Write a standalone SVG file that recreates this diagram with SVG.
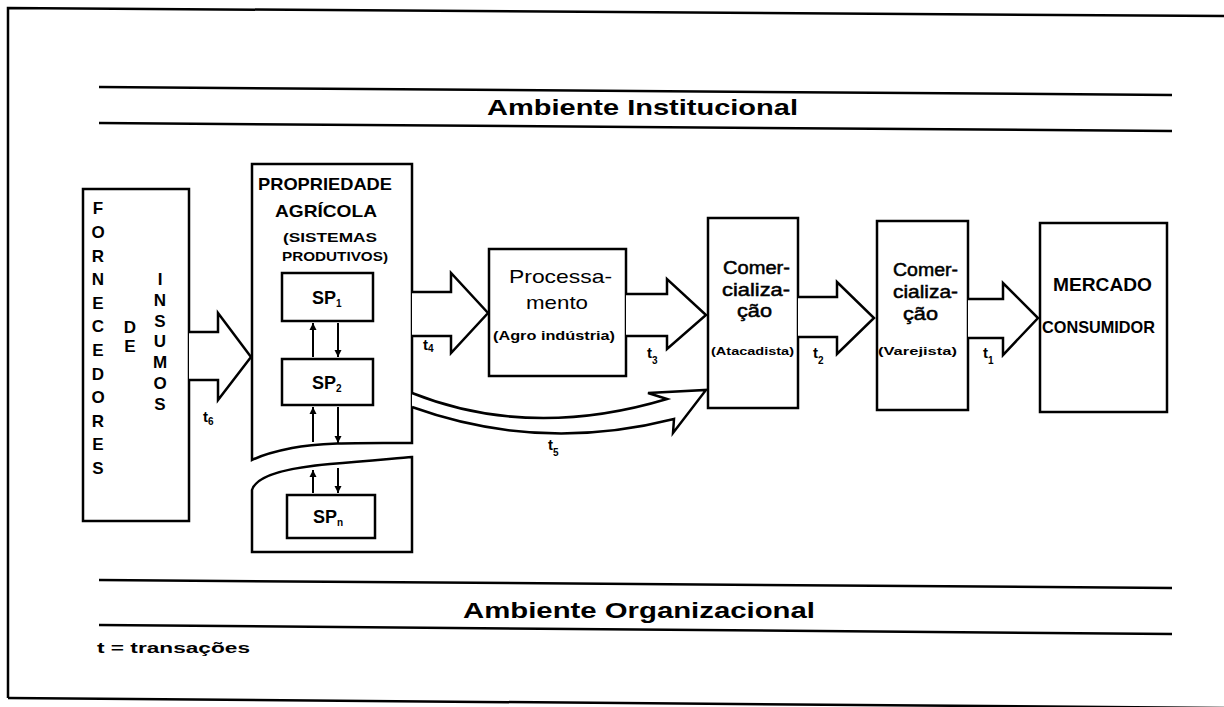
<svg xmlns="http://www.w3.org/2000/svg" width="1224" height="707" viewBox="0 0 1224 707">
<style>
.ln{fill:none;stroke:#000;stroke-width:2.5}
.bx{fill:#fff;stroke:#000;stroke-width:2.5}
.ar{fill:#fff;stroke:#000;stroke-width:2.5;stroke-linejoin:miter}
.sa{fill:none;stroke:#000;stroke-width:2}
text{font-family:"Liberation Sans",Arial,sans-serif;fill:#000}
.b{font-weight:bold}
.m{stroke:#000;stroke-width:0.5}
.t{font-weight:bold;font-size:15px}
.s{font-size:10px;font-weight:bold}
</style>
<defs>
<marker id="ah" viewBox="0 0 10 10" refX="10" refY="5" markerWidth="7" markerHeight="8" markerUnits="userSpaceOnUse" orient="auto">
<path d="M0,0 L10,5 L0,10 Z" fill="#000"/>
</marker>
</defs>
<rect width="1224" height="707" fill="#fff"/>
<g id="frame">
<path class="ln" d="M8,698 L8,8 L1224,16"/>
<path class="ln" d="M8,698 L1224,708"/>
</g>
<g id="ambiente-institucional">
<path class="ln" d="M99,87 L1172,95"/>
<path class="ln" d="M99,123 L1172,131"/>
<text class="b" x="487" y="115" font-size="22" textLength="311" lengthAdjust="spacingAndGlyphs">Ambiente Institucional</text>
</g>
<g id="ambiente-organizacional">
<path class="ln" d="M99,580 L1172,588"/>
<path class="ln" d="M99,625 L1172,634"/>
<text class="b" x="463" y="618" font-size="22" textLength="352" lengthAdjust="spacingAndGlyphs">Ambiente Organizacional</text>
<text class="b" x="97" y="653" font-size="15" textLength="153" lengthAdjust="spacingAndGlyphs">t = transações</text>
</g>
<g id="fornecedores">
<rect class="bx" x="83" y="189" width="106" height="332"/>
<text class="b" font-size="17" text-anchor="middle">
<tspan x="98" y="214">F</tspan><tspan x="98" y="238">O</tspan><tspan x="98" y="262">R</tspan><tspan x="98" y="285">N</tspan><tspan x="98" y="309">E</tspan><tspan x="98" y="332">C</tspan><tspan x="98" y="356">E</tspan><tspan x="98" y="380">D</tspan><tspan x="98" y="403">O</tspan><tspan x="98" y="427">R</tspan><tspan x="98" y="450">E</tspan><tspan x="98" y="474">S</tspan>
</text>
<text class="b" font-size="17" text-anchor="middle">
<tspan x="130" y="333">D</tspan><tspan x="130" y="352">E</tspan>
</text>
<text class="b" font-size="17" text-anchor="middle">
<tspan x="160" y="285">I</tspan><tspan x="160" y="306">N</tspan><tspan x="160" y="327">S</tspan><tspan x="160" y="347">U</tspan><tspan x="160" y="368">M</tspan><tspan x="160" y="389">O</tspan><tspan x="160" y="410">S</tspan>
</text>
</g>
<g id="propriedade">
<path class="bx" d="M252,460 L252,164 L412,164 L412,443 C365,443 320,442 292,448 C272,452 260,456 252,460 Z"/>
<path class="bx" d="M252,552 L252,490 C256,476 285,468 330,464 C370,461 398,458 412,457 L412,552 Z"/>
<text class="b" x="258" y="190" font-size="17" textLength="134" lengthAdjust="spacingAndGlyphs">PROPRIEDADE</text>
<text class="b" x="275" y="217" font-size="17" textLength="102" lengthAdjust="spacingAndGlyphs">AGRÍCOLA</text>
<text class="b" x="283" y="242" font-size="13" textLength="94" lengthAdjust="spacingAndGlyphs">(SISTEMAS</text>
<text class="b" x="282" y="261" font-size="13" textLength="106" lengthAdjust="spacingAndGlyphs">PRODUTIVOS)</text>
</g>
<g id="sp1">
<rect class="bx" x="282" y="273" width="91" height="48"/>
<text class="b" x="312" y="304" font-size="18">SP<tspan class="s" dy="3">1</tspan></text>
</g>
<g id="sp2">
<rect class="bx" x="282" y="359" width="91" height="46"/>
<text class="b" x="312" y="389" font-size="18">SP<tspan class="s" dy="3">2</tspan></text>
</g>
<g id="spn">
<rect class="bx" x="287" y="495" width="88" height="43"/>
<text class="b" x="313" y="523" font-size="18">SP<tspan class="s" dy="3">n</tspan></text>
</g>
<g id="processamento">
<rect class="bx" x="489" y="249" width="137" height="127"/>
<text x="509" y="283" font-size="19" textLength="103" lengthAdjust="spacingAndGlyphs">Processa-</text>
<text x="526" y="309" font-size="19" textLength="62" lengthAdjust="spacingAndGlyphs">mento</text>
<text class="b" x="493" y="340" font-size="12" textLength="122" lengthAdjust="spacingAndGlyphs">(Agro indústria)</text>
</g>
<g id="atacadista">
<rect class="bx" x="708" y="218" width="90" height="190"/>
<text class="m" x="723" y="274" font-size="18" textLength="67" lengthAdjust="spacingAndGlyphs">Comer-</text>
<text class="m" x="722" y="296" font-size="18" textLength="68" lengthAdjust="spacingAndGlyphs">cializa-</text>
<text class="m" x="737" y="317" font-size="18" textLength="35" lengthAdjust="spacingAndGlyphs">ção</text>
<text class="b" x="711" y="355" font-size="11" textLength="83" lengthAdjust="spacingAndGlyphs">(Atacadista)</text>
</g>
<g id="varejista">
<rect class="bx" x="877" y="221" width="91" height="189"/>
<text class="m" x="893" y="276" font-size="18" textLength="65" lengthAdjust="spacingAndGlyphs">Comer-</text>
<text class="m" x="893" y="298" font-size="18" textLength="65" lengthAdjust="spacingAndGlyphs">cializa-</text>
<text class="m" x="903" y="320" font-size="18" textLength="35" lengthAdjust="spacingAndGlyphs">ção</text>
<text class="b" x="878" y="355" font-size="11" textLength="79" lengthAdjust="spacingAndGlyphs">(Varejista)</text>
</g>
<g id="mercado">
<rect class="bx" x="1040" y="223" width="127" height="189"/>
<text class="b" x="1053" y="291" font-size="18" textLength="99" lengthAdjust="spacingAndGlyphs">MERCADO</text>
<text class="b" x="1042" y="333" font-size="17" textLength="113" lengthAdjust="spacingAndGlyphs">CONSUMIDOR</text>
</g>
<g id="connectors">
<polyline class="ar" points="189,332 218,332 218,313 251,357 218,400 218,380 189,380"/>
<polyline class="ar" points="412,292 451,292 451,273 488,313 451,353 451,336 412,336"/>
<polyline class="ar" points="626,294 667,294 667,279 706,315 667,349 667,336 626,336"/>
<polyline class="ar" points="798,297 837,297 837,282 874,318 837,354 837,337 798,337"/>
<polyline class="ar" points="968,299 1003,299 1003,283 1038,318 1003,355 1003,338 968,338"/>
<path class="ar" d="M412,393 Q530,440 667,399 L648,393 L706,390 L673,433 L674,419 Q540,453 412,407"/>
<line class="sa" x1="313" y1="357" x2="313" y2="323" marker-end="url(#ah)"/>
<line class="sa" x1="338" y1="323" x2="338" y2="357" marker-end="url(#ah)"/>
<line class="sa" x1="313" y1="442" x2="313" y2="407" marker-end="url(#ah)"/>
<line class="sa" x1="338" y1="407" x2="338" y2="443" marker-end="url(#ah)"/>
<line class="sa" x1="313" y1="493" x2="313" y2="470" marker-end="url(#ah)"/>
<line class="sa" x1="338" y1="468" x2="338" y2="493" marker-end="url(#ah)"/>
<text class="t" x="203" y="422">t<tspan class="s" dy="3">6</tspan></text>
<text class="t" x="423" y="350">t<tspan class="s" dy="2">4</tspan></text>
<text class="t" x="647" y="358">t<tspan class="s" dy="6">3</tspan></text>
<text class="t" x="813" y="358">t<tspan class="s" dy="6">2</tspan></text>
<text class="t" x="983" y="358">t<tspan class="s" dy="6">1</tspan></text>
<text class="t" x="548" y="450">t<tspan class="s" dy="6">5</tspan></text>
</g>
</svg>
